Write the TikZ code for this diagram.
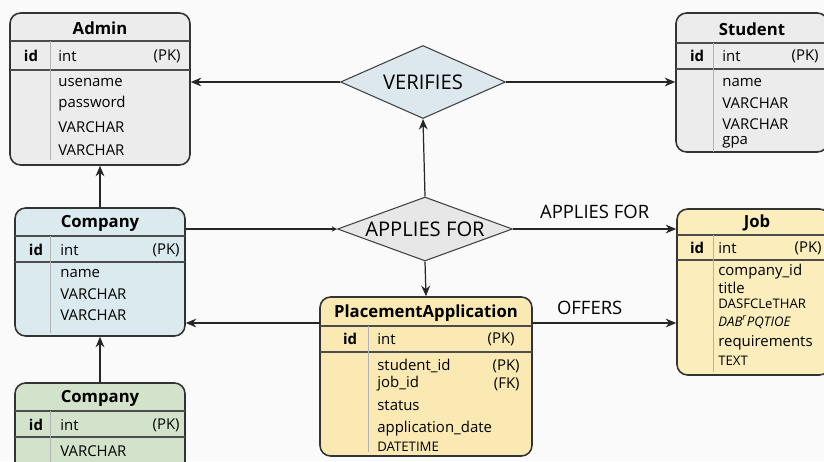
\documentclass[tikz,border=0pt]{standalone}
\usepackage{fontspec}
\setmainfont{Open Sans}
\usetikzlibrary{shapes.geometric,arrows.meta}

\definecolor{admingray}{HTML}{ECECEC}
\definecolor{companyblue}{HTML}{DAEAEE}
\definecolor{companygreen}{HTML}{D3E3CB}
\definecolor{jobyellow}{HTML}{FBEDBC}
\definecolor{placeyellow}{HTML}{FBE9B4}
\definecolor{verifyblue}{HTML}{DCE8EE}
\definecolor{applygray}{HTML}{E7E7E7}

\begin{document}
\begin{tikzpicture}[x=0.02cm, y=-0.02cm, >={Stealth[length=6pt,width=5pt]},
  entity/.style={draw=black!80, line width=0.9pt, rounded corners=6pt, inner sep=0pt},
  relbox/.style={diamond, draw=black!75, line width=0.6pt, inner sep=0pt, font=\fontsize{11.5}{13}\selectfont},
  headtxt/.style={font=\bfseries\fontsize{9.5}{11}\selectfont, inner sep=0pt},
  idtxt/.style={font=\bfseries\fontsize{8.5}{10}\selectfont, inner sep=0pt},
  rowtxt/.style={anchor=west, font=\fontsize{8.5}{10}\selectfont, inner sep=0pt},
  keytxt/.style={anchor=east, font=\fontsize{8.5}{10}\selectfont, inner sep=0pt},
  hline/.style={draw=black!70, line width=0.6pt},
  vline/.style={draw=black!30, line width=0.5pt},
  linkarrow/.style={->, draw=black!85, line width=0.7pt},
  linktxt/.style={font=\fontsize{10.5}{12}\selectfont}]
  \clip (0,0) rectangle (824,461);
  \fill[black!2] (0,0) rectangle (824,461);

  % entities
  \node[entity, fill=admingray, minimum width=3.6cm, minimum height=3.04cm] (admin) at (100,89) {};
  \draw[hline] (10,41) -- (190,41);
  \draw[hline] (10,70) -- (190,70);
  \draw[vline] (50,41) -- (50,160);
  \node[headtxt] (admin-t) at (100,28) {Admin};
  \node[idtxt] (admin-id) at (31,56) {id};
  \node[rowtxt] (admin-int) at (58,56) {int};
  \node[keytxt] (admin-pk) at (181,56) {(PK)};
  \node[rowtxt] (admin-r1) at (58,82) {usename};
  \node[rowtxt] (admin-r2) at (58,104) {password};
  \node[rowtxt] (admin-r3) at (58,127) {VARCHAR};
  \node[rowtxt] (admin-r4) at (58,150) {VARCHAR};

  \node[entity, fill=admingray, minimum width=3.04cm, minimum height=2.78cm] (student) at (752,82.5) {};
  \draw[hline] (676,43) -- (828,43);
  \draw[hline] (676,69) -- (828,69);
  \draw[vline] (713,43) -- (713,152);
  \node[headtxt] (student-t) at (752,29) {Student};
  \node[idtxt] (student-id) at (697,56) {id};
  \node[rowtxt] (student-int) at (722,56) {int};
  \node[keytxt] (student-pk) at (819,56) {(PK)};
  \node[rowtxt] (student-r1) at (722,82) {name};
  \node[rowtxt] (student-r2) at (722,103) {VARCHAR};
  \node[rowtxt] (student-r3) at (722,124) {VARCHAR};
  \node[rowtxt] (student-r4) at (722,142) {gpa};

  \node[entity, fill=companyblue, minimum width=3.4cm, minimum height=2.56cm] (company) at (100,272) {};
  \draw[hline] (15,236) -- (185,236);
  \draw[hline] (15,262) -- (185,262);
  \draw[vline] (50,236) -- (50,333);
  \node[headtxt] (company-t) at (100,223) {Company};
  \node[idtxt] (company-id) at (36,250) {id};
  \node[rowtxt] (company-int) at (60,250) {int};
  \node[keytxt] (company-pk) at (180,250) {(PK)};
  \node[rowtxt] (company-r1) at (60,273) {name};
  \node[rowtxt] (company-r2) at (60,294) {VARCHAR};
  \node[rowtxt] (company-r3) at (60,315) {VARCHAR};

  \node[entity, fill=companygreen, minimum width=3.4cm, minimum height=1.8cm] (company2) at (100,428) {};
  \draw[hline] (15,411) -- (185,411);
  \draw[hline] (15,437) -- (185,437);
  \draw[vline] (50,411) -- (50,470);
  \node[headtxt] (company2-t) at (100,398) {Company};
  \node[idtxt] (company2-id) at (36,425) {id};
  \node[rowtxt] (company2-int) at (60,425) {int};
  \node[keytxt] (company2-pk) at (180,425) {(PK)};
  \node[rowtxt] (company2-r1) at (60,451) {VARCHAR};

  \node[entity, fill=jobyellow, minimum width=3.06cm, minimum height=3.32cm] (job) at (753.5,292) {};
  \draw[hline] (677,235) -- (830,235);
  \draw[hline] (677,260) -- (830,260);
  \draw[vline] (713,235) -- (713,372);
  \node[headtxt] (job-t) at (757,223) {Job};
  \node[idtxt] (job-id) at (697,248) {id};
  \node[rowtxt] (job-int) at (718,248) {int};
  \node[keytxt] (job-pk) at (822,248) {(PK)};
  \node[rowtxt] (job-r1) at (718,272) {company\_id};
  \node[rowtxt] (job-r2) at (718,288) {title};
  \node[rowtxt, font=\fontsize{7.5}{9}\selectfont] (job-r3) at (718,304) {DASFCLeTHAR};
  \node[rowtxt, font=\itshape\fontsize{7.5}{9}\selectfont] (job-r4) at (718,322) {DAB\textsuperscript{r}PQTIOE};
  \node[rowtxt] (job-r5) at (718,343) {requirements};
  \node[rowtxt, font=\fontsize{7.5}{9}\selectfont] (job-r6) at (718,361) {TEXT};

  \node[entity, fill=placeyellow, minimum width=4.24cm, minimum height=3.18cm] (placement) at (426,376.5) {};
  \draw[hline] (320,326) -- (532,326);
  \draw[hline] (320,352) -- (532,352);
  \draw[vline] (368,326) -- (368,452);
  \node[headtxt] (placement-t) at (426,313) {PlacementApplication};
  \node[idtxt] (placement-id) at (350,339) {id};
  \node[rowtxt] (placement-int) at (377,339) {int};
  \node[keytxt] (placement-pk) at (515,339) {(PK)};
  \node[rowtxt] (placement-r1) at (377,366) {student\_id};
  \node[keytxt] (placement-k1) at (520,366) {(PK)};
  \node[rowtxt] (placement-r2) at (377,384) {job\_id};
  \node[keytxt] (placement-k2) at (520,384) {(FK)};
  \node[rowtxt] (placement-r3) at (377,406) {status};
  \node[rowtxt] (placement-r4) at (377,429) {application\_date};
  \node[rowtxt, font=\fontsize{7.5}{9}\selectfont] (placement-r5) at (377,447) {DATETIME};

  % relationships
  \node[relbox, fill=verifyblue, aspect=2.26, minimum width=3.3cm, minimum height=1.46cm] (verifies) at (423,82) {VERIFIES};
  \node[relbox, fill=applygray, aspect=2.75, minimum width=3.5cm, minimum height=1.28cm] (applies) at (425,229) {APPLIES FOR};
  \coordinate (pa-l) at (320,323);
  \coordinate (pa-r) at (532,323);

  % connectors
  \draw[linkarrow] (verifies.west) -- (verifies.west -| admin.east);
  \draw[linkarrow] (verifies.east) -- (verifies.east -| student.west);
  \draw[linkarrow] (applies.north) -- (verifies.south);
  \draw[linkarrow] (company.north) -- (admin.south);
  \draw[draw=black!85, line width=0.7pt, -{Stealth[length=3pt,width=3pt]}] (applies.west -| company.east) -- (applies.west);
  \draw[linkarrow] (applies.east) -- (applies.east -| job.west) node[linktxt, midway, above=2pt] {APPLIES FOR};
  \draw[linkarrow] (applies.south) -- (placement.north);
  \draw[linkarrow] (pa-l) -- (pa-l -| company.east);
  \draw[linkarrow] (pa-r) -- (pa-r -| job.west) node[linktxt, pos=0.4, above=1pt] {OFFERS};
  \draw[linkarrow] (company2.north) -- (company.south);
\end{tikzpicture}
\end{document}
